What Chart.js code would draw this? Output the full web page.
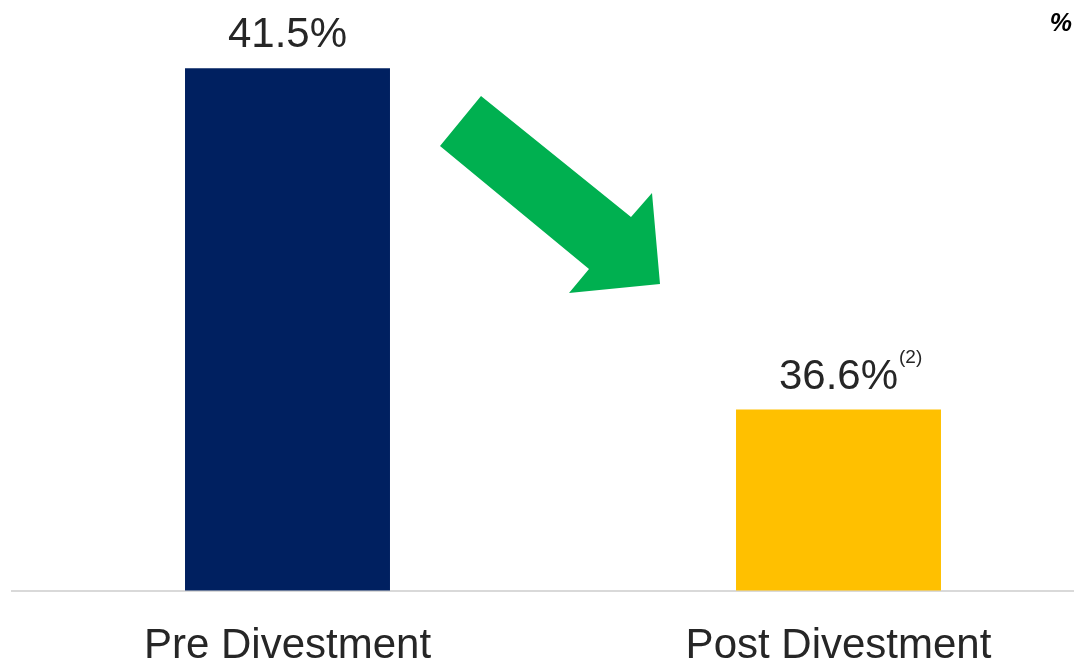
<!DOCTYPE html>
<html>
<head>
<meta charset="utf-8">
<script src="https://cdn.jsdelivr.net/npm/chart.js@4"></script>
<style>
  html, body { margin: 0; padding: 0; background: #fff; }
  #wrap { width: 1074px; height: 661px; overflow: hidden; position: relative; }
  #unit { position: absolute; right: 2px; top: 8px; font: italic bold 25px "Liberation Sans", Arial, sans-serif; color: #000; }
</style>
</head>
<body>
<div id="wrap">
  <canvas id="taxChart" width="1114" height="703"></canvas>
  <div id="unit">%</div>
</div>
<script>
const categories = ['Pre Divestment', 'Post Divestment'];
const values = [41.5, 36.6];
const footnotes = ['', '(2)'];
const barColors = ['#002060', '#FFC000'];

const FONT = '"Liberation Sans", Arial, sans-serif';

// value labels on top of the bars, plus the footnote marker
const valueLabels = {
  id: 'valueLabels',
  afterDatasetsDraw(chart) {
    const ctx = chart.ctx;
    const meta = chart.getDatasetMeta(0);
    ctx.save();
    ctx.fillStyle = '#262626';
    ctx.textBaseline = 'alphabetic';
    meta.data.forEach((bar, i) => {
      const txt = values[i].toFixed(1) + '%';
      ctx.font = '42px ' + FONT;
      ctx.textAlign = 'center';
      const y = bar.y - 21;
      ctx.fillText(txt, bar.x, y);
      if (footnotes[i]) {
        const w = ctx.measureText(txt).width;
        ctx.font = '19px ' + FONT;
        ctx.textAlign = 'left';
        ctx.fillText(footnotes[i], bar.x + w / 2 + 1, y - 26);
      }
    });
    ctx.restore();
  }
};

// green down arrow between the bars
const downArrow = {
  id: 'downArrow',
  afterDraw(chart) {
    const ctx = chart.ctx;
    const pts = [[440, 146], [481, 96], [631, 217], [652, 193], [660, 284], [569, 293], [589, 269]];
    ctx.save();
    ctx.fillStyle = '#00B050';
    ctx.beginPath();
    pts.forEach((p, i) => i ? ctx.lineTo(p[0], p[1]) : ctx.moveTo(p[0], p[1]));
    ctx.closePath();
    ctx.fill();
    ctx.restore();
  }
};

new Chart(document.getElementById('taxChart').getContext('2d'), {
  type: 'bar',
  data: {
    labels: categories,
    datasets: [{
      data: values,
      backgroundColor: barColors,
      barPercentage: 1,
      categoryPercentage: 0.372
    }]
  },
  options: {
    responsive: false,
    animation: false,
    layout: { padding: { left: 12, right: 0, top: 0, bottom: 0 } },
    plugins: { legend: { display: false }, tooltip: { enabled: false } },
    scales: {
      x: {
        grid: { display: false, drawTicks: false },
        border: { display: true, color: '#d9d9d9', width: 2 },
        ticks: { color: '#262626', font: { family: FONT, size: 42 }, padding: 31 }
      },
      y: {
        display: false,
        min: 34,
        max: 42.48
      }
    }
  },
  plugins: [valueLabels, downArrow]
});
</script>
</body>
</html>
